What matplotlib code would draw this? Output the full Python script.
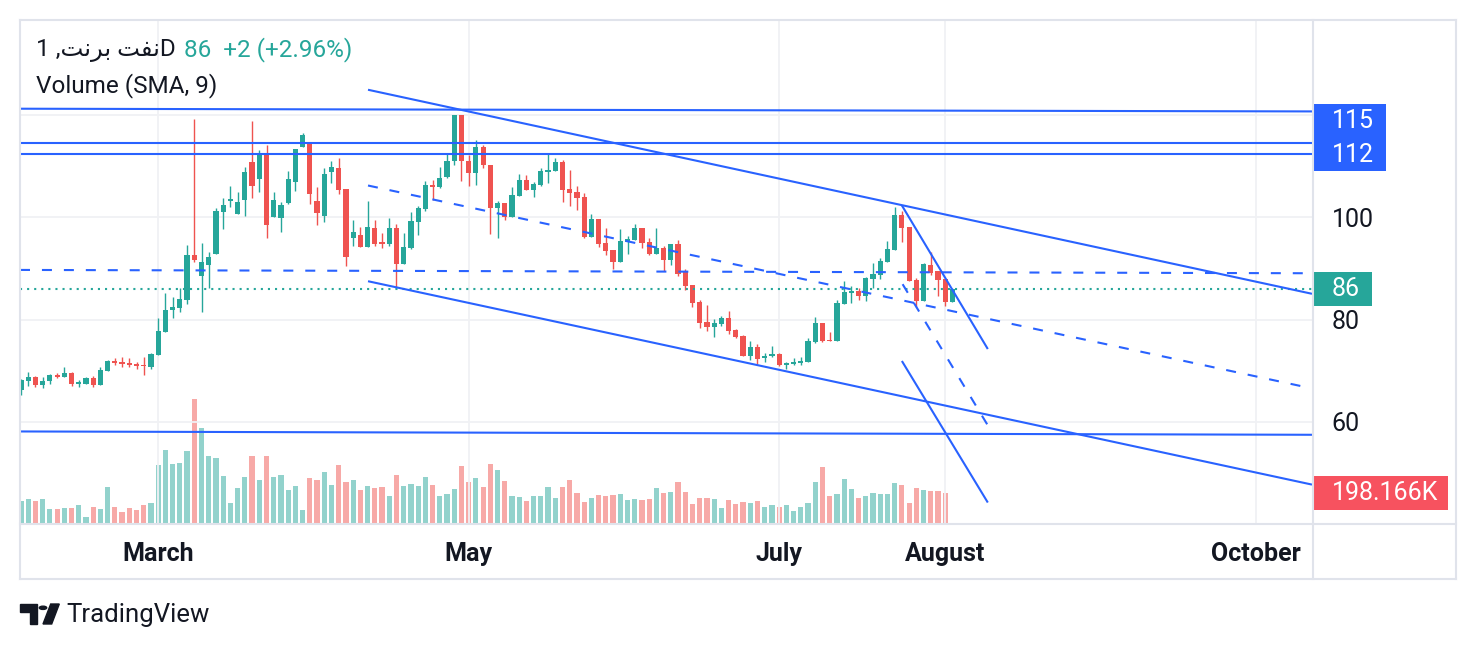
import numpy as np
import matplotlib
matplotlib.use("Agg")
import matplotlib.pyplot as plt
import matplotlib.transforms as mtransforms
from matplotlib.patches import Rectangle, Polygon, Circle
from matplotlib.lines import Line2D

plt.rcParams['font.family'] = ['Roboto', 'DejaVu Sans']
plt.rcParams['lines.scale_dashes'] = False

# daily candles (oldest first)
opens = [66.2, 67.9, 68.8, 67.2, 67.9, 69.2, 68.8, 69.6, 67.4, 67.4,
         68.6, 67.2, 70.0, 71.9, 71.7, 71.5, 71.3, 71.2, 70.8, 73.1,
         77.6, 81.8, 82.2, 83.9, 92.6, 88.5, 90.7, 92.8, 101.0, 103.2,
         100.6, 103.4, 110.9, 107.6, 112.3, 100.1, 99.9, 102.9, 107.0, 113.7,
         114.5, 103.3, 100.3, 108.8, 109.6, 105.5, 96.0, 96.5, 94.2, 98.0,
         95.1, 94.8, 97.9, 90.9, 94.0, 99.1, 101.6, 106.4, 105.9, 108.0,
         111.0, 120.1, 111.1, 108.7, 113.7, 110.3, 101.8, 102.9, 100.1, 104.1,
         107.4, 105.3, 106.4, 108.8, 109.0, 110.9, 105.5, 104.9, 103.9, 96.1,
         99.6, 94.9, 93.6, 91.2, 95.2, 95.6, 97.9, 95.1, 92.8, 94.1,
         91.6, 94.7, 89.3, 86.7, 83.5, 79.5, 78.6, 79.2, 80.3, 78.0,
         76.8, 72.9, 74.6, 72.5, 72.8, 73.3, 71.2, 71.4, 71.6, 71.8,
         75.6, 79.3, 76.1, 75.9, 83.1, 85.2, 85.6, 84.7, 88.0, 88.8,
         91.2, 93.6, 100.4, 98.1, 87.7, 83.7, 90.7, 89.5, 88.0, 83.5]
highs = [68.3, 69.8, 69.0, 68.8, 69.3, 69.6, 70.8, 69.8, 68.1, 68.8,
         69.0, 70.8, 72.1, 72.4, 72.6, 72.4, 71.8, 72.7, 73.5, 80.3,
         85.2, 84.4, 86.1, 94.6, 119.3, 95.0, 93.2, 101.8, 103.7, 106.2,
         104.9, 109.8, 118.9, 113.1, 114.2, 104.9, 103.1, 109.0, 113.3, 116.6,
         114.5, 105.9, 109.6, 111.1, 111.7, 105.5, 99.4, 98.2, 103.3, 99.4,
         96.9, 99.8, 98.8, 96.9, 101.0, 102.2, 107.2, 107.4, 109.8, 112.5,
         120.1, 120.1, 112.3, 115.2, 114.2, 110.3, 103.3, 102.9, 105.9, 108.4,
         108.2, 107.0, 109.6, 112.7, 111.7, 111.3, 109.2, 106.2, 104.8, 100.6,
         99.6, 98.0, 93.6, 97.7, 96.3, 98.8, 97.9, 95.9, 98.0, 94.5,
         94.7, 95.5, 89.9, 86.7, 83.9, 82.9, 80.1, 80.8, 81.7, 78.1,
         77.0, 75.8, 75.2, 73.5, 74.8, 73.5, 71.8, 72.4, 72.6, 76.4,
         80.5, 79.3, 77.6, 83.8, 87.5, 86.5, 86.2, 88.3, 91.0, 92.0,
         95.3, 102.0, 101.2, 98.1, 88.1, 91.0, 93.2, 89.5, 88.0, 86.2]
lows = [65.3, 67.1, 66.9, 66.7, 67.3, 68.6, 68.8, 67.1, 66.9, 67.4,
        66.9, 67.2, 70.0, 71.2, 70.8, 70.7, 70.4, 69.2, 70.4, 73.1,
        77.6, 80.3, 81.5, 83.1, 91.3, 81.4, 86.1, 92.8, 97.7, 102.0,
        100.6, 100.3, 103.7, 104.9, 96.0, 100.1, 97.1, 102.7, 105.1, 113.7,
        102.7, 98.5, 99.1, 106.8, 104.5, 90.5, 94.4, 94.2, 94.2, 94.4,
        94.0, 94.4, 86.2, 90.9, 93.8, 96.6, 101.3, 103.4, 105.7, 107.8,
        110.2, 107.1, 106.2, 106.4, 109.6, 96.7, 95.9, 99.4, 100.1, 104.1,
        105.3, 103.9, 106.2, 106.8, 109.0, 103.1, 102.2, 101.4, 95.9, 96.1,
        94.2, 92.6, 89.9, 91.2, 92.8, 95.6, 94.0, 92.6, 92.8, 89.5,
        90.6, 88.5, 85.8, 82.5, 78.4, 77.8, 76.6, 78.7, 77.2, 76.4,
        72.9, 72.1, 71.3, 71.7, 72.6, 70.9, 70.3, 71.2, 71.1, 71.8,
        75.4, 75.6, 75.9, 75.9, 83.1, 83.3, 83.9, 83.7, 86.1, 88.0,
        91.2, 93.6, 95.2, 87.6, 82.5, 83.7, 88.8, 84.7, 82.7, 83.5]
closes = [68.1, 68.8, 67.2, 68.0, 69.2, 68.8, 69.6, 67.4, 67.7, 68.6,
          67.2, 70.1, 71.9, 71.5, 71.3, 71.1, 70.9, 70.9, 73.3, 77.8,
          81.9, 82.4, 84.0, 92.6, 91.7, 91.2, 92.2, 101.2, 102.5, 103.6,
          103.1, 108.8, 106.1, 112.3, 98.6, 103.5, 102.5, 107.6, 113.3, 116.2,
          104.5, 100.8, 108.4, 109.8, 105.3, 92.3, 97.1, 94.2, 98.2, 94.8,
          94.8, 97.9, 90.9, 94.2, 99.2, 101.8, 106.4, 105.9, 107.8, 111.1,
          120.1, 111.0, 108.7, 113.7, 110.2, 101.8, 102.9, 100.1, 104.3, 107.4,
          105.3, 106.6, 109.0, 109.2, 110.9, 105.3, 104.8, 103.8, 96.1, 99.6,
          94.7, 93.4, 91.2, 95.3, 95.7, 97.9, 94.9, 92.8, 94.1, 91.6,
          94.7, 88.9, 86.6, 83.3, 79.4, 78.6, 79.3, 80.3, 77.8, 76.6,
          72.9, 74.6, 72.3, 72.9, 73.2, 71.1, 71.6, 71.8, 71.9, 75.8,
          79.3, 75.8, 75.9, 83.2, 85.4, 85.6, 84.7, 88.1, 88.9, 91.4,
          93.8, 100.4, 97.9, 87.6, 83.7, 90.8, 89.2, 87.8, 83.5, 86.0]
# volume in thousands, the last bar has no volume yet
volumes = [146, 159, 146, 159, 95, 95, 101, 101, 121, 43,
           108, 95, 237, 108, 75, 101, 88, 121, 133, 379,
           476, 385, 392, 469, 805, 618, 437, 424, 308, 133,
           230, 301, 437, 282, 437, 301, 314, 217, 243, 88,
           295, 282, 334, 250, 379, 269, 282, 217, 243, 230,
           237, 179, 314, 243, 256, 243, 301, 250, 179, 192,
           224, 372, 269, 295, 237, 385, 346, 275, 179, 172,
           146, 179, 179, 237, 166, 237, 282, 198, 140, 166,
           185, 179, 185, 192, 153, 159, 153, 159, 230, 198,
           204, 269, 204, 127, 166, 166, 159, 101, 153, 127,
           140, 133, 146, 108, 121, 108, 121, 82, 108, 133,
           269, 366, 179, 192, 288, 224, 166, 179, 198, 192,
           192, 263, 250, 133, 230, 217, 211, 211, 198.166]

month_pos = [19, 62, 105, 128, 171]
month_names = ['March', 'May', 'July', 'August', 'October']
price_ticks = [40, 60, 80, 100, 120]
price_tick_labels = ['', '60', '80', '100', '']

# drawings: (bar0, price0, bar1, price1)
solid_lines = [(-0.14, 121.27, 178.8, 120.74),
               (-0.14, 114.65, 178.8, 114.65),
               (-0.14, 112.4, 178.8, 112.4),
               (-0.14, 58.11, 178.8, 57.46),
               (48.06, 124.98, 178.8, 85.05),
               (48.06, 87.51, 178.8, 47.71),
               (122.0, 102.34, 133.9, 74.24),
               (122.0, 71.9, 133.9, 44.2)]
dashed_lines = [(-0.14, 89.72, 178.8, 89.07),
                (48.06, 106.24, 177.8, 66.83),
                (122.1, 86.93, 133.9, 59.3)]
last_price = 86
price_tags = [('115', 118.9, '#2962ff', 0.0565),
              ('112', 112.3, '#2962ff', 0.0565),
              ('86', 86.0, '#26a69a', 0.0457)]
vol_tag = ('198.166K', 198.166)

GREEN = '#26a69a'
RED = '#ef5350'
BLUE = '#2962ff'
W, H = 1476, 650
FS = 18

o = np.array(opens)
h = np.array(highs)
l = np.array(lows)
c = np.array(closes)
x = np.arange(len(o))
up = c >= o
colors = np.where(up, GREEN, RED)
vcolors = np.where(up, '#92d2cc', '#f7a9a7')

fig = plt.figure(figsize=(W / 100, H / 100), dpi=100)
rect = [20 / W, 1 - 524 / H, 1292 / W, 504 / H]
ax_v = fig.add_axes(rect)
ax = fig.add_axes(rect, sharex=ax_v)
ax.patch.set_alpha(0)

# volume pane
nv = len(volumes)
ax_v.bar(x[:nv], volumes, width=0.72, color=vcolors[:nv], linewidth=0)
ax_v.set_ylim(0, 3253)
ax_v.axis('off')

# candles
ax.vlines(x, l, h, color=colors, linewidth=1.0, zorder=3)
body = np.maximum(np.abs(c - o), 0.15)
ax.bar(x, body, bottom=np.minimum(o, c), width=0.72, color=colors,
       linewidth=0, zorder=3)

# drawings
for x0, y0, x1, y1 in solid_lines:
    ax.plot([x0, x1], [y0, y1], color=BLUE, lw=1.5, zorder=5,
            solid_capstyle='butt')
for x0, y0, x1, y1 in dashed_lines:
    ax.plot([x0, x1], [y0, y1], color=BLUE, lw=1.5, zorder=5,
            linestyle=(0, (7.2, 8.6)))
ax.axhline(last_price, color=GREEN, lw=1.5, linestyle=(0, (1.5, 3.6)),
           zorder=4)

ax.set_xlim(-0.14, 178.8)
ax.set_ylim(40.29, 138.63)
ax.set_xticks(month_pos)
ax.set_xticklabels(month_names, fontsize=FS, fontweight='bold',
                   color='#131722')
ax.set_yticks(price_ticks)
ax.set_yticklabels(price_tick_labels, fontsize=FS, color='#131722')
ax.yaxis.tick_right()
ax.tick_params(axis='y', length=0, pad=14)
ax.tick_params(axis='x', length=0, pad=13)
ax.grid(True, color='#f0f1f4', lw=1.3, zorder=0)
for s in ax.spines.values():
    s.set_visible(False)

# price scale tags
tr = mtransforms.blended_transform_factory(ax.transAxes, ax.transData)
for txt, y, col, w in price_tags:
    ax.add_patch(Rectangle((1.0005, y - 3.3), w, 6.6, transform=tr,
                           color=col, clip_on=False, zorder=6, lw=0))
    ax.text(1.0155, y, txt, transform=tr, color='white', fontsize=FS,
            va='center', ha='left', zorder=7, clip_on=False)
trv = mtransforms.blended_transform_factory(ax_v.transAxes, ax_v.transData)
ax.add_patch(Rectangle((1.0005, vol_tag[1] - 109), 0.1045, 218,
                       transform=trv, color='#f7525f', clip_on=False,
                       zorder=6, lw=0))
ax.text(1.0155, vol_tag[1], vol_tag[0], transform=trv, color='white',
        fontsize=FS, va='center', ha='left', zorder=7, clip_on=False)


def px(xp, yp):
    return xp / W, 1 - yp / H


# frame and separators
frame = '#e0e3eb'
for (xa, ya), (xb, yb) in [((20, 20), (1456, 20)), ((1456, 20), (1456, 579)),
                           ((1456, 579), (20, 579)), ((20, 579), (20, 20)),
                           ((1313, 20), (1313, 579)), ((20, 524), (1456, 524))]:
    p0, p1 = px(xa, ya), px(xb, yb)
    fig.add_artist(Line2D([p0[0], p1[0]], [p0[1], p1[1]], color=frame,
                          lw=1.5, transform=fig.transFigure))

# legend header
arabic = '\ufe96\ufee7\ufeae\ufe91 \ufe96\ufed4\ufee7'
fig.text(*px(36, 50), '1 ,' + arabic + 'D', fontsize=17.5, color='#131722',
         va='center', ha='left')
fig.text(*px(184, 50), '86  +2 (+2.96%)', fontsize=17.5, color=GREEN,
         va='center', ha='left')
fig.text(*px(36, 86), 'Volume (SMA, 9)', fontsize=17.5, color='#131722',
         va='center', ha='left')

# TradingView logo
logo = '#131722'
fig.add_artist(Polygon([px(20, 604), px(37.3, 604), px(37.3, 624), px(30, 624),
                        px(30, 611.5), px(20, 611.5)], closed=True,
                       color=logo, transform=fig.transFigure))
fig.add_artist(Polygon([px(50.7, 604), px(59.3, 604), px(51.7, 624),
                        px(43, 624)], closed=True, color=logo,
                       transform=fig.transFigure))
cx, cy = px(43, 607.8)
fig.add_artist(Circle((cx, cy), 3.7 / W, color=logo,
                      transform=fig.transFigure))
fig.text(*px(66, 615), 'TradingView', fontsize=18.5, color=logo,
         va='center', ha='left')

fig.savefig('out.png', dpi=100)
